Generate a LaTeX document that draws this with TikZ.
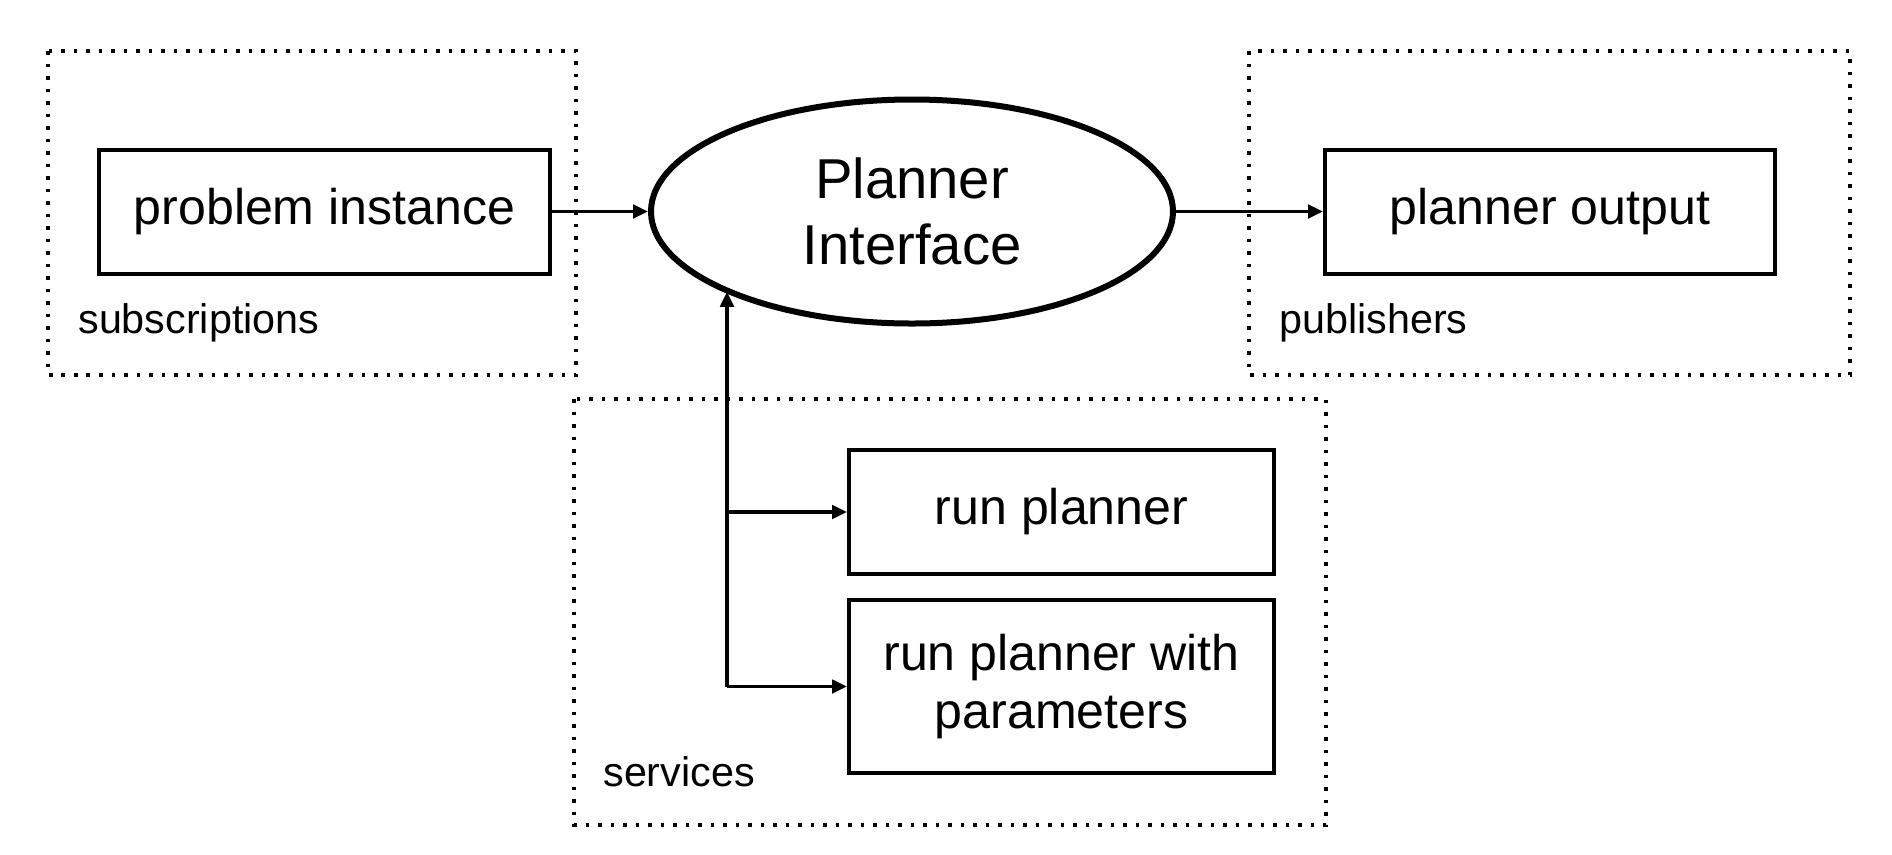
\documentclass[tikz,border=0pt]{standalone}
\usepackage{fontspec}
\setmainfont{Liberation Sans}
\usetikzlibrary{arrows.meta,shapes.geometric}

\begin{document}
\begin{tikzpicture}[box/.style={draw, line width=0.08cm, minimum width=8.5cm, minimum height=2.48cm, align=center, font=\fontsize{28.5}{33}\selectfont},
	group/.style={line width=0.07cm, dash pattern=on 0.07cm off 0.18cm},
	grouplabel/.style={anchor=west, inner sep=0pt, font=\fontsize{23.5}{28}\selectfont},
	arr/.style={line width=0.065cm, -{Triangle[length=0.3cm,width=0.27cm]}}]
	\def\midy{-4.23}
	\useasboundingbox (0,0) rectangle (37.84,-17.08);
	
	% dotted groups
	\draw[group] (0.96,-1.02) rectangle (11.52,-7.5);
	\draw[group] (24.98,-1.02) rectangle (37.0,-7.5);
	\draw[group] (11.48,-7.98) rectangle (26.52,-16.5);
	\node[grouplabel] (sublabel) at (1.56,-6.46) {subscriptions};
	\node[grouplabel] (publabel) at (25.58,-6.46) {publishers};
	\node[grouplabel] (srvlabel) at (12.06,-15.44) {services};
	
	\node[box, minimum width=9.02cm] (prob) at (6.49,\midy) {problem instance};
	\node[draw, ellipse, line width=0.12cm, minimum width=10.44cm, minimum height=4.48cm, align=center, font=\fontsize{32}{38}\selectfont] (iface) at (18.24,\midy) {Planner\\Interface};
	\node[box, minimum width=9.0cm] (out) at (31.0,\midy) {planner output};
	\node[box] (run) at (21.23,-10.24) {run planner};
	\node[box, minimum height=3.46cm] (runp) at (21.23,-13.73) {run planner with\\parameters};
	\coordinate (split) at (14.54,-13.73);
	
	\draw[arr] (prob.east) -- (iface.west);
	\draw[arr] (iface.east) -- (out.west);
	\draw[arr] (split) -- (split |- iface.203);
	\draw[arr] (split |- run.west) -- (run.west);
	\draw[arr] (split) -- (runp.west);
\end{tikzpicture}
\end{document}
